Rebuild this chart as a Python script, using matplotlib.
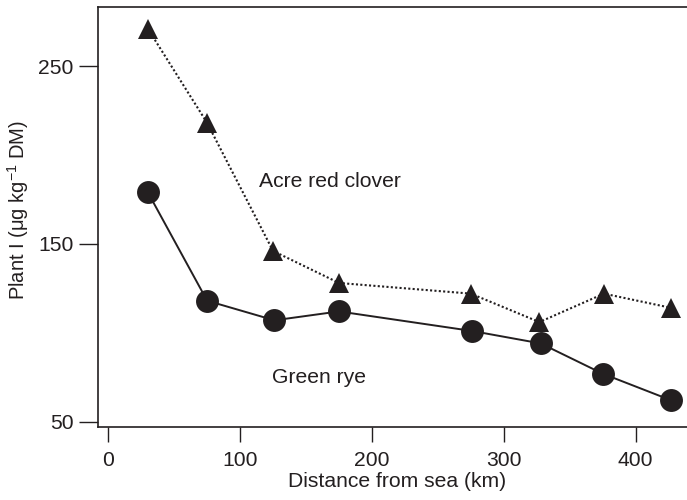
import matplotlib
matplotlib.use("Agg")
import matplotlib.pyplot as plt

plt.rcParams['font.family'] = ['Liberation Sans', 'DejaVu Sans']
plt.rcParams['mathtext.fontset'] = 'custom'
plt.rcParams['mathtext.rm'] = 'Liberation Sans'
plt.rcParams['mathtext.it'] = 'Liberation Sans:italic'
plt.rcParams['mathtext.bf'] = 'Liberation Sans:bold'

# Data
clover_x = [30, 75, 125, 175, 275, 327, 376, 427]
clover_y = [271, 218, 146, 128, 122, 106, 122, 114]
rye_x = [30, 75, 126, 175, 276, 328, 375, 427]
rye_y = [179, 118, 107, 112, 101, 94, 77, 62]
xticks = [0, 100, 200, 300, 400]
yticks = [50, 150, 250]

W, H = 687, 500
fig = plt.figure(figsize=(W / 100, H / 100), dpi=100)
ax = fig.add_axes([98 / W, 73 / H, 1 - 98 / W, (427 - 7) / H])

ink = '#231f20'
ax.plot(clover_x, clover_y, linestyle=(0, (1, 1.1)), color=ink, linewidth=1.5,
        marker='^', markersize=15, markeredgewidth=0, markerfacecolor=ink, clip_on=False)
ax.plot(rye_x, rye_y, linestyle='-', color=ink, linewidth=1.4,
        marker='o', markersize=16.5, markeredgewidth=0, markerfacecolor=ink, clip_on=False)

fs = 15.2
ax.text(114.6, 182.1, 'Acre red clover', fontsize=fs, color=ink, va='baseline', ha='left')
ax.text(124, 71.7, 'Green rye', fontsize=fs, color=ink, va='baseline', ha='left')

ax.set_xlim(-7.8, 439)
ax.set_ylim(47, 283.2)
ax.set_xticks(xticks)
ax.set_yticks(yticks)
ax.tick_params(axis='both', direction='out', width=1.0, color=ink,
               labelsize=fs, labelcolor=ink)
ax.tick_params(axis='x', length=11, pad=6)
ax.tick_params(axis='y', length=13.7, pad=4)
for s in ['left', 'top', 'bottom']:
    ax.spines[s].set_linewidth(1.2)
    ax.spines[s].set_color(ink)
ax.spines['right'].set_visible(False)

ax.set_xlabel('Distance from sea (km)', fontsize=fs, color=ink)
ax.xaxis.set_label_coords((397 - 98) / 589, (427 - 472) / 420)
ax.set_ylabel('Plant I (\u03bcg kg$^{-1}$ DM)', fontsize=14.5, color=ink)
ax.yaxis.set_label_coords((31 - 98) / 589, (427 - 210) / 420)

fig.savefig('out.png', dpi=100)
